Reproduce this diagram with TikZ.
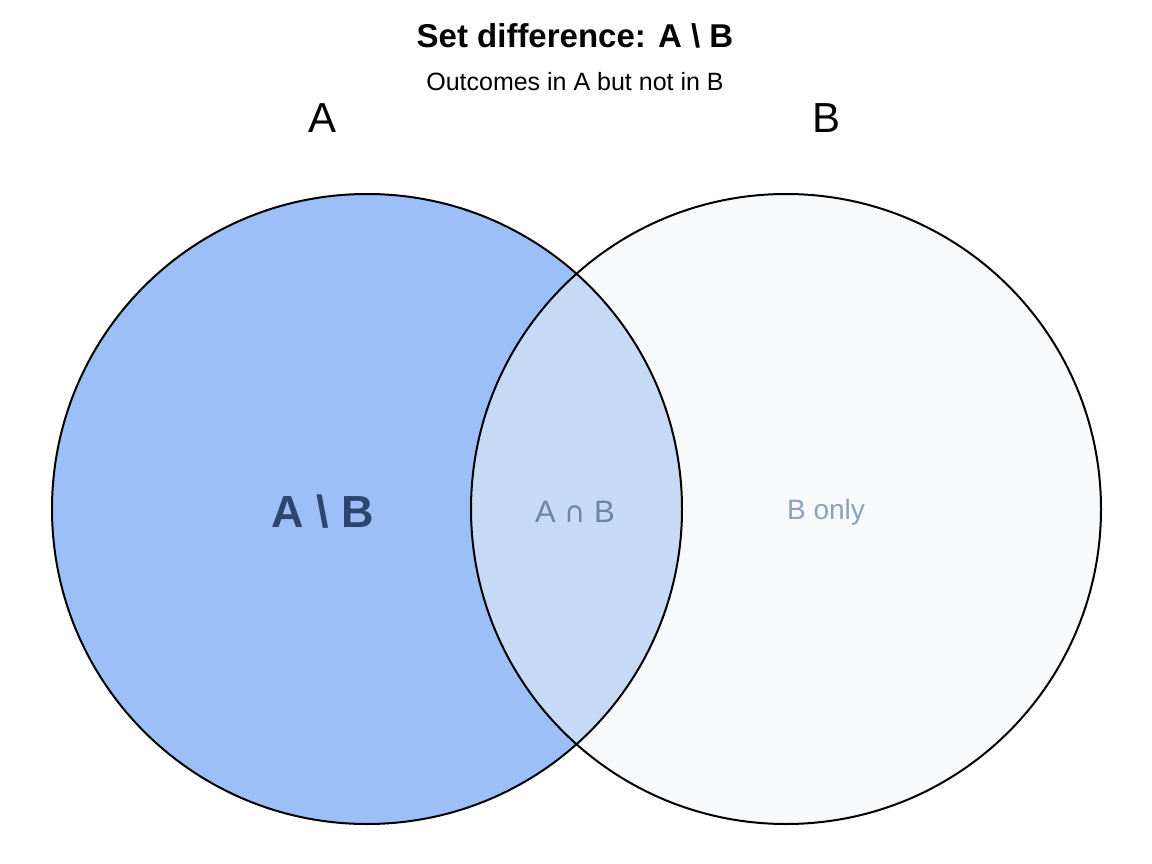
\documentclass[tikz,border=0pt]{standalone}
\usepackage{fontspec}
\setmainfont{Liberation Sans}
\newfontfamily\djv{DejaVu Sans}
\definecolor{afill}{HTML}{9DBFF7}
\definecolor{ifill}{HTML}{C6DAF6}
\definecolor{bfill}{HTML}{F8F9FB}
\definecolor{adark}{HTML}{2C4670}
\definecolor{imid}{HTML}{6E84A3}
\definecolor{bonly}{HTML}{8DA1BC}
\tikzset{outline/.style={draw=black,line width=2pt}}
\begin{document}
\begin{tikzpicture}[x=1pt,y=-1pt]
\useasboundingbox (0,0) rectangle (1152,864);
\coordinate (ca) at (367,509);
\coordinate (cb) at (786,509);
\fill[bfill] (cb) circle (315);
\fill[afill] (ca) circle (315);
\begin{scope}
\clip (ca) circle (315);
\fill[ifill] (cb) circle (315);
\end{scope}
\draw[outline] (ca) circle (315);
\draw[outline] (cb) circle (315);
\node (title) at (575,36) {\fontsize{33}{38}\selectfont\bfseries Set difference: A \textbackslash{} B};
\node (sub) at (575,82) {\fontsize{25}{30}\selectfont Outcomes in A but not in B};
\node (la) at (323,118) {\fontsize{42}{48}\selectfont A};
\node (lb) at (826,118) {\fontsize{42}{48}\selectfont B};
\node[text=adark] (ab) at (323,512) {\fontsize{45}{52}\selectfont\bfseries A \textbackslash{} B};
\node[text=imid] (ib) at (575,512) {\fontsize{31}{36}\selectfont A {\djv\fontsize{29}{36}\selectfont ∩} B};
\node[text=bonly] (bo) at (826,512) {\fontsize{28}{34}\selectfont B only};
\end{tikzpicture}
\end{document}
